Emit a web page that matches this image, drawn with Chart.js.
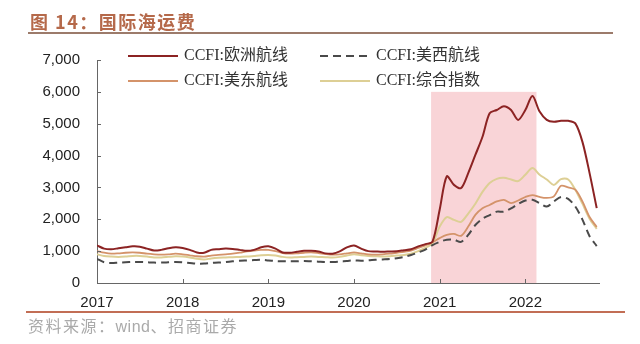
<!DOCTYPE html>
<html lang="zh-CN">
<head>
  <meta charset="UTF-8">
  <title>国际海运费</title>
  <style>
    body {
      margin: 0;
      background: #ffffff;
      font-family: 'Noto Sans CJK SC', sans-serif;
    }
    #wrap {
      position: relative;
      width: 640px;
      height: 344px;
      overflow: hidden;
    }
    #chart-box {
      position: absolute;
      left: 0;
      top: 0;
      width: 640px;
      height: 344px;
    }
    #title {
      position: absolute;
      left: 30px;
      top: 9px;
      font-size: 18px;
      line-height: 24px;
      font-weight: bold;
      letter-spacing: 1.5px;
      color: #b5694a;
      white-space: nowrap;
    }
    #title-rule {
      position: absolute;
      left: 28px;
      top: 32px;
      width: 585px;
      height: 2px;
      background: #9c7b6b;
    }
    #source-rule {
      position: absolute;
      left: 26px;
      top: 311px;
      width: 599px;
      height: 2px;
      background: #c26e55;
    }
    #source {
      position: absolute;
      left: 28px;
      top: 314px;
      font-size: 16px;
      line-height: 22px;
      letter-spacing: 1.5px;
      color: #aaaaaa;
      white-space: nowrap;
    }
    #source .latin {
      font-family: 'Liberation Sans', Arial, sans-serif;
      letter-spacing: 0.5px;
    }
  </style>
</head>
<body>
  <div id="wrap">
    <div id="chart-box"><canvas id="freightChart"></canvas></div>
    <div id="title">图 14：国际海运费</div>
    <div id="title-rule"></div>
    <div id="source-rule"></div>
    <div id="source">资料来源：<span class="latin">wind</span>、招商证券</div>
  </div>

  <script src="https://cdn.jsdelivr.net/npm/chart.js@4.4.3/dist/chart.umd.min.js"></script>
  <script>
    // monthly readings, Jan 2017 .. Nov 2022
    const startYear = 2017;
    const europe = [
      1180, 1080, 1060, 1090, 1120, 1150, 1140, 1080, 1020, 1040, 1090, 1120,
      1100, 1040, 960, 950, 1040, 1060, 1080, 1070, 1040, 1010, 1040, 1120,
      1150, 1080, 960, 950, 980, 1010, 1010, 990, 930, 920, 990, 1120,
      1180, 1080, 1000, 990, 980, 990, 1000, 1030, 1060, 1150, 1220, 1300,
      2300, 3350, 3080, 2980, 3450, 4020, 4590, 5330, 5430, 5550, 5430, 5120,
      5430, 5870, 5380, 5120, 5060, 5090, 5090, 5010, 4430, 3450, 2350
    ];
    const usWest = [
      760, 650, 630, 640, 650, 660, 660, 650, 640, 640, 650, 660,
      650, 630, 610, 610, 630, 640, 660, 680, 700, 710, 720, 730,
      710, 690, 680, 680, 680, 690, 680, 670, 660, 660, 670, 690,
      710, 700, 710, 730, 740, 750, 780, 820, 880, 960, 1050, 1190,
      1290, 1360, 1360, 1290, 1510, 1820, 2020, 2130, 2240, 2240, 2340, 2480,
      2590, 2610, 2510, 2400, 2560, 2700, 2640, 2400, 1990, 1470, 1160
    ];
    const usEast = [
      1000, 950, 920, 930, 950, 960, 950, 920, 900, 890, 900, 920,
      900, 870, 840, 830, 860, 880, 900, 920, 950, 990, 1020, 1040,
      1040, 1000, 940, 920, 930, 950, 960, 940, 910, 890, 900, 930,
      960, 930, 900, 890, 900, 920, 950, 980, 1020, 1100, 1180, 1280,
      1410, 1510, 1540, 1480, 1770, 2140, 2350, 2450, 2560, 2610, 2510, 2590,
      2700, 2760, 2700, 2670, 2720, 3050, 3000, 2930, 2560, 2070, 1760
    ];
    const composite = [
      900, 850, 830, 820, 830, 850, 850, 830, 800, 800, 820, 840,
      830, 800, 760, 740, 770, 790, 800, 810, 820, 830, 850, 870,
      880, 860, 820, 800, 810, 820, 830, 820, 810, 800, 820, 860,
      900, 870, 850, 840, 830, 840, 860, 880, 920, 1000, 1100, 1250,
      1770, 2070, 1980, 1920, 2180, 2490, 2860, 3140, 3270, 3300, 3250, 3200,
      3400, 3610, 3400, 3250, 3080, 3260, 3250, 2930, 2490, 2020, 1700
    ];
    const seriesLabels = ['CCFI:欧洲航线', 'CCFI:美西航线', 'CCFI:美东航线', 'CCFI:综合指数'];
    const yearTicks = [2017, 2018, 2019, 2020, 2021, 2022];
    const valueTicks = [0, 1000, 2000, 3000, 4000, 5000, 6000, 7000];
    const xEnd = 2022.86;

    // shaded period (late 2020 .. Feb 2022)
    const shadeStart = 2020.90;
    const shadeEnd = 2022.13;
    const shadeTop = 6000;

    const toPoints = arr => arr.map((v, i) => ({ x: startYear + i / 12, y: v }));

    // pink band behind the lines
    const shadePlugin = {
      id: 'shade',
      beforeDatasetsDraw(chart) {
        const { ctx, scales: { x, y } } = chart;
        const x0 = x.getPixelForValue(shadeStart);
        const x1 = x.getPixelForValue(shadeEnd);
        const y0 = y.getPixelForValue(shadeTop);
        const y1 = y.getPixelForValue(0);
        ctx.save();
        ctx.fillStyle = '#f9d4d7';
        ctx.fillRect(x0, y0, x1 - x0, y1 - y0);
        ctx.restore();
      }
    };

    // small inward tick marks on both axes
    const innerTicks = {
      id: 'innerTicks',
      afterDraw(chart) {
        const { ctx, chartArea, scales: { x, y } } = chart;
        ctx.save();
        ctx.strokeStyle = '#666';
        ctx.lineWidth = 1;
        ctx.beginPath();
        y.ticks.forEach(t => {
          const py = Math.round(y.getPixelForValue(t.value)) + 0.5;
          ctx.moveTo(chartArea.left, py);
          ctx.lineTo(chartArea.left + 4, py);
        });
        x.ticks.forEach(t => {
          const px = Math.round(x.getPixelForValue(t.value)) + 0.5;
          ctx.moveTo(px, chartArea.bottom);
          ctx.lineTo(px, chartArea.bottom - 4);
        });
        ctx.stroke();
        ctx.restore();
      }
    };

    // two-column legend inside the plot, top left
    const legendSpots = [[128, 56], [320, 56], [128, 81], [320, 81]];
    const boxLegend = {
      id: 'boxLegend',
      afterDraw(chart) {
        const ctx = chart.ctx;
        ctx.save();
        ctx.font = "16px 'Liberation Serif', 'Noto Sans CJK SC', serif";
        ctx.textBaseline = 'middle';
        chart.data.datasets.forEach((ds, i) => {
          const [lx, ly] = legendSpots[i];
          ctx.strokeStyle = ds.borderColor;
          ctx.lineWidth = ds.borderWidth;
          ctx.setLineDash(ds.borderDash || []);
          ctx.beginPath();
          ctx.moveTo(lx, ly);
          ctx.lineTo(lx + 50, ly);
          ctx.stroke();
          ctx.setLineDash([]);
          ctx.fillStyle = '#333';
          ctx.fillText(ds.label, lx + 56, ly);
        });
        ctx.restore();
      }
    };

    const tickFont = { family: "'Liberation Sans', Arial, sans-serif", size: 15 };

    new Chart(document.getElementById('freightChart'), {
      type: 'line',
      data: {
        datasets: [
          {
            label: seriesLabels[0],
            data: toPoints(europe),
            borderColor: '#8c2323',
            borderWidth: 2
          },
          {
            label: seriesLabels[1],
            data: toPoints(usWest),
            borderColor: '#4a4a4a',
            borderWidth: 2,
            borderDash: [8, 5]
          },
          {
            label: seriesLabels[2],
            data: toPoints(usEast),
            borderColor: '#d4936a',
            borderWidth: 1.8
          },
          {
            label: seriesLabels[3],
            data: toPoints(composite),
            borderColor: '#ddcf95',
            borderWidth: 2
          }
        ]
      },
      options: {
        responsive: true,
        maintainAspectRatio: false,
        animation: false,
        layout: { padding: { top: 60, right: 41, bottom: 0, left: 0 } },
        elements: {
          point: { radius: 0 },
          line: { tension: 0.3, fill: false }
        },
        scales: {
          x: {
            type: 'linear',
            min: startYear,
            max: xEnd,
            grid: { display: false },
            border: { display: true, color: '#666', width: 1 },
            afterBuildTicks: s => { s.ticks = yearTicks.map(v => ({ value: v })); },
            afterFit: s => { s.height = 61; },
            ticks: {
              padding: 3,
              color: '#222',
              font: tickFont,
              maxRotation: 0,
              autoSkip: false,
              callback: v => String(v)
            }
          },
          y: {
            min: 0,
            max: 7000,
            grid: { display: false, drawTicks: false },
            border: { display: true, color: '#666', width: 1 },
            afterBuildTicks: s => { s.ticks = valueTicks.map(v => ({ value: v })); },
            afterFit: s => { s.width = 97; },
            ticks: {
              padding: 17,
              color: '#222',
              font: tickFont,
              callback: v => v.toLocaleString('en-US')
            }
          }
        },
        plugins: {
          legend: { display: false },
          tooltip: { enabled: false }
        }
      },
      plugins: [shadePlugin, innerTicks, boxLegend]
    });
  </script>
</body>
</html>
